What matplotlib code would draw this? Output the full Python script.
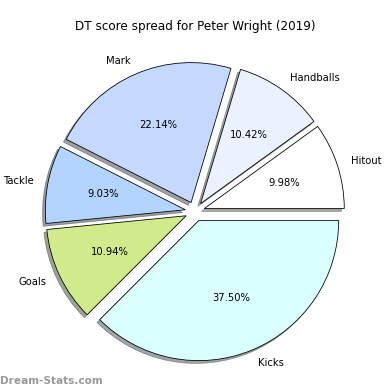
import matplotlib
matplotlib.use("Agg")
import matplotlib.pyplot as plt

labels = ["Hitout", "Handballs", "Mark", "Tackle", "Goals", "Kicks"]
shares = [9.98, 10.42, 22.14, 9.03, 10.94, 37.50]
colors = ["#ffffff", "#ebf1ff", "#c5d8ff", "#b3d4ff", "#d0eb8c", "#d9ffff"]
explode = [0.07] * len(labels)

fig = plt.figure(figsize=(390 / 72, 390 / 72), dpi=72)
ax = fig.add_axes([-0.0026, -0.045, 1.005, 1.005])
ax.pie(
    shares,
    labels=labels,
    colors=colors,
    explode=explode,
    autopct="%.2f%%",
    shadow=True,
    startangle=0,
    wedgeprops=dict(edgecolor="black", linewidth=0.8),
    textprops=dict(fontsize=10),
)
ax.set_xlim(-1.4, 1.4)
ax.set_ylim(-1.4, 1.4)
ax.set_aspect("equal")
ax.axis("off")

fig.text(0.5, 0.931, "DT score spread for Peter Wright (2019)", ha="center",
         va="center", fontsize=12)
fig.text(0.0, 0.024, "Dream-Stats.com", ha="left", va="center", fontsize=10.5,
         fontweight="bold", color="#999999")

fig.savefig("out.png", dpi=72)
